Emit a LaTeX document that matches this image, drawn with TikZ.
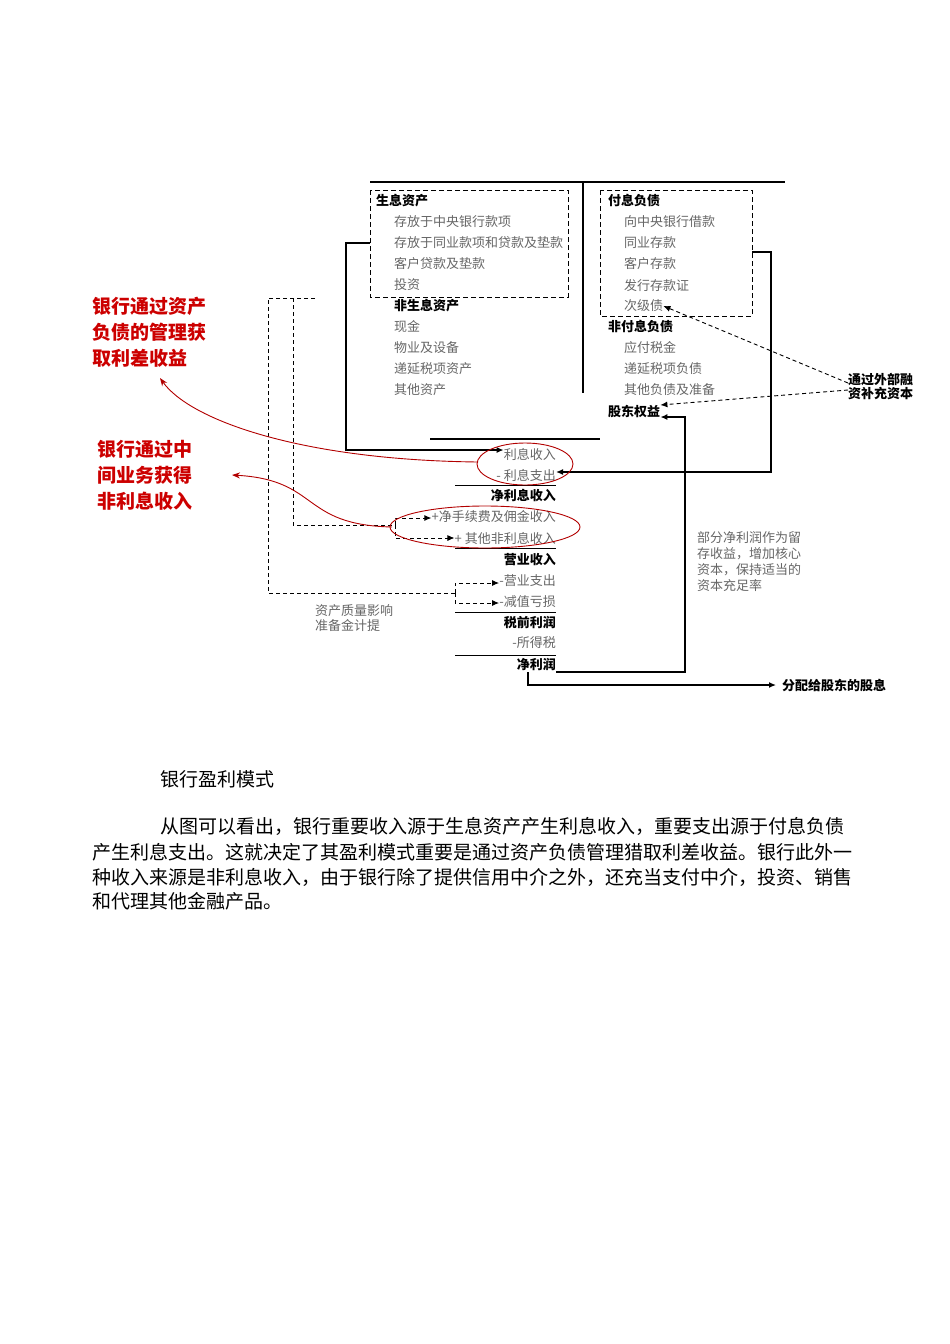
\documentclass[tikz,border=0pt]{standalone}
\usepackage{fontspec}
\setmainfont{Noto Sans CJK SC}
\usetikzlibrary{arrows.meta}
\begin{document}
\begin{tikzpicture}[x=1pt,y=-1pt,
  it/.style={anchor=west,inner sep=0pt,font=\fontsize{13}{13}\selectfont,text=black!60},
  hd/.style={anchor=west,inner sep=0pt,font=\fontsize{13}{13}\selectfont\bfseries},
  ri/.style={anchor=east,inner sep=0pt,font=\fontsize{13}{13}\selectfont,text=black!60},
  rh/.style={anchor=east,inner sep=0pt,font=\fontsize{13}{13}\selectfont\bfseries},
  red/.style={anchor=west,inner sep=0pt,font=\fontsize{19}{26}\selectfont\bfseries,text=red!80!black,align=left},
  body/.style={anchor=west,inner sep=0pt,font=\fontsize{19}{18}\selectfont},
  solid/.style={line width=1.3pt,-{Latex[length=7pt,width=6pt]}},
  dsh/.style={dash pattern=on 4pt off 3pt,line width=0.9pt},
  dar/.style={dash pattern=on 4pt off 3pt,line width=0.9pt,-{Latex[length=7pt,width=6pt]}},
  rc/.style={draw=red!70!black,line width=0.9pt}]
\useasboundingbox (0,0) rectangle (950,1344);
% frame
\draw[line width=2.2pt] (370,182) -- (785,182);
\draw[line width=2.2pt] (583,182) -- (583,393);
\draw[line width=2.2pt] (430,439) -- (600,439);
\draw[dash pattern=on 5pt off 3pt,line width=0.9pt] (370,190) rectangle (568,297);
\draw[dash pattern=on 5pt off 3pt,line width=0.9pt] (600,190) rectangle (752,316);
% left side
\node[hd] (a0) at (376,201) {生息资产};
\node[it] (a1) at (394,222) {存放于中央银行款项};
\node[it] (a2) at (394,243) {存放于同业款项和贷款及垫款};
\node[it] (a3) at (394,264) {客户贷款及垫款};
\node[it] (a4) at (394,285) {投资};
\node[hd] (b0) at (394,306) {非生息资产};
\node[it] (b1) at (394,327) {现金};
\node[it] (b2) at (394,348) {物业及设备};
\node[it] (b3) at (394,369) {递延税项资产};
\node[it] (b4) at (394,390) {其他资产};
% right side
\node[hd] (c0) at (608,201) {付息负债};
\node[it] (c1) at (624,222) {向中央银行借款};
\node[it] (c2) at (624,243) {同业存款};
\node[it] (c3) at (624,264) {客户存款};
\node[it] (c4) at (624,286) {发行存款证};
\node[it] (c5) at (624,306) {次级债};
\node[hd] (d0) at (608,327) {非付息负债};
\node[it] (d1) at (624,348) {应付税金};
\node[it] (d2) at (624,369) {递延税项负债};
\node[it] (d3) at (624,390) {其他负债及准备};
\node[hd] (eq) at (608,412) {股东权益};
% income statement
\node[ri] (i1) at (556,454) {利息收入};
\node[ri] (i2) at (556,475) {- 利息支出};
\node[rh] (i3) at (556,496) {净利息收入};
\node[ri] (i4) at (556,517) {+净手续费及佣金收入};
\node[ri] (i5) at (556,538) {+ 其他非利息收入};
\node[rh] (i6) at (556,560) {营业收入};
\node[ri] (i7) at (556,581) {-营业支出};
\node[ri] (i8) at (556,602) {-减值亏损};
\node[rh] (i9) at (556,622) {税前利润};
\node[ri] (i10) at (556,643) {-所得税};
\node[rh] (np) at (556,664) {净利润};
\foreach \y in {485,548,612,655} \draw[line width=0.9pt] (455,\y) -- (556,\y);
% solid connectors
\coordinate (lb) at (370,243);
\coordinate (rb) at (752,252);
\coordinate (npr) at (556,672);
\coordinate (npb) at (528,672);
\draw[solid] (lb) -- (346,243) -- (346,450) -- (i1.west |- 0,450);
\draw[solid] (rb) -- (771,252) -- (771,472) -- (i2.east |- 0,472);
\draw[solid] (npr) -- (685,672) -- (685,417) -- (eq.east |- 0,417);
\coordinate (div) at (776,685);
\draw[solid] (npb) -- (528,685) -- (div);
\node[hd,anchor=west] (dv) at (782,685) {分配给股东的股息};
% dashed connectors
\draw[dsh] (315,298) -- (268,298) -- (268,593) -- (455,593);
\draw[dar] (455,593) -- (455,583) -- (i7.west |- 0,583);
\draw[dar] (455,593) -- (455,603) -- (i8.west |- 0,603);
\draw[dsh] (293,298) -- (293,525) -- (395,525);
\draw[dar] (395,525) -- (395,518) -- (i4.west |- 0,518);
\draw[dar] (395,525) -- (395,538) -- (i5.west |- 0,538);
\node[anchor=west,inner sep=0pt,align=left,font=\fontsize{13}{15}\selectfont,text=black!60] (q) at (315,618) {资产质量影响\\准备金计提};
\node[anchor=west,inner sep=0pt,align=left,font=\fontsize{13}{16}\selectfont,text=black!60] (rt) at (697,562) {部分净利润作为留\\存收益，增加核心\\资本，保持适当的\\资本充足率};
\node[anchor=west,inner sep=0pt,align=left,font=\fontsize{13}{14}\selectfont\bfseries] (ext) at (848,387) {通过外部融\\资补充资本};
\draw[dar] (ext.west) ++(0,-4) -- (c5.east);
\draw[dar] (ext.west) ++(0,3) -- (eq.east |- 0,405);
% red annotations
\node[red] (r1) at (92,332) {银行通过资产\\负债的管理获\\取利差收益};
\node[red] (r2) at (97,475) {银行通过中\\间业务获得\\非利息收入};
\draw[rc] (525,464) ellipse [x radius=48, y radius=21];
\draw[rc] (485,527) ellipse [x radius=95, y radius=21];
\draw[rc,-{Stealth[length=8pt]}] (478,462) .. controls (300,460) and (190,420) .. (160,378);
\draw[rc,-{Stealth[length=8pt]}] (392,527) .. controls (300,525) and (320,480) .. (232,475);
% text below
\node[body] (cap) at (160,779) {银行盈利模式};
\node[body] (p1) at (160,826) {从图可以看出，银行重要收入源于生息资产产生利息收入，重要支出源于付息负债};
\node[body] (p2) at (92,852) {产生利息支出。这就决定了其盈利模式重要是通过资产负债管理猎取利差收益。银行此外一};
\node[body] (p3) at (92,877) {种收入来源是非利息收入，由于银行除了提供信用中介之外，还充当支付中介，投资、销售};
\node[body] (p4) at (92,901) {和代理其他金融产品。};
\end{tikzpicture}
\end{document}
